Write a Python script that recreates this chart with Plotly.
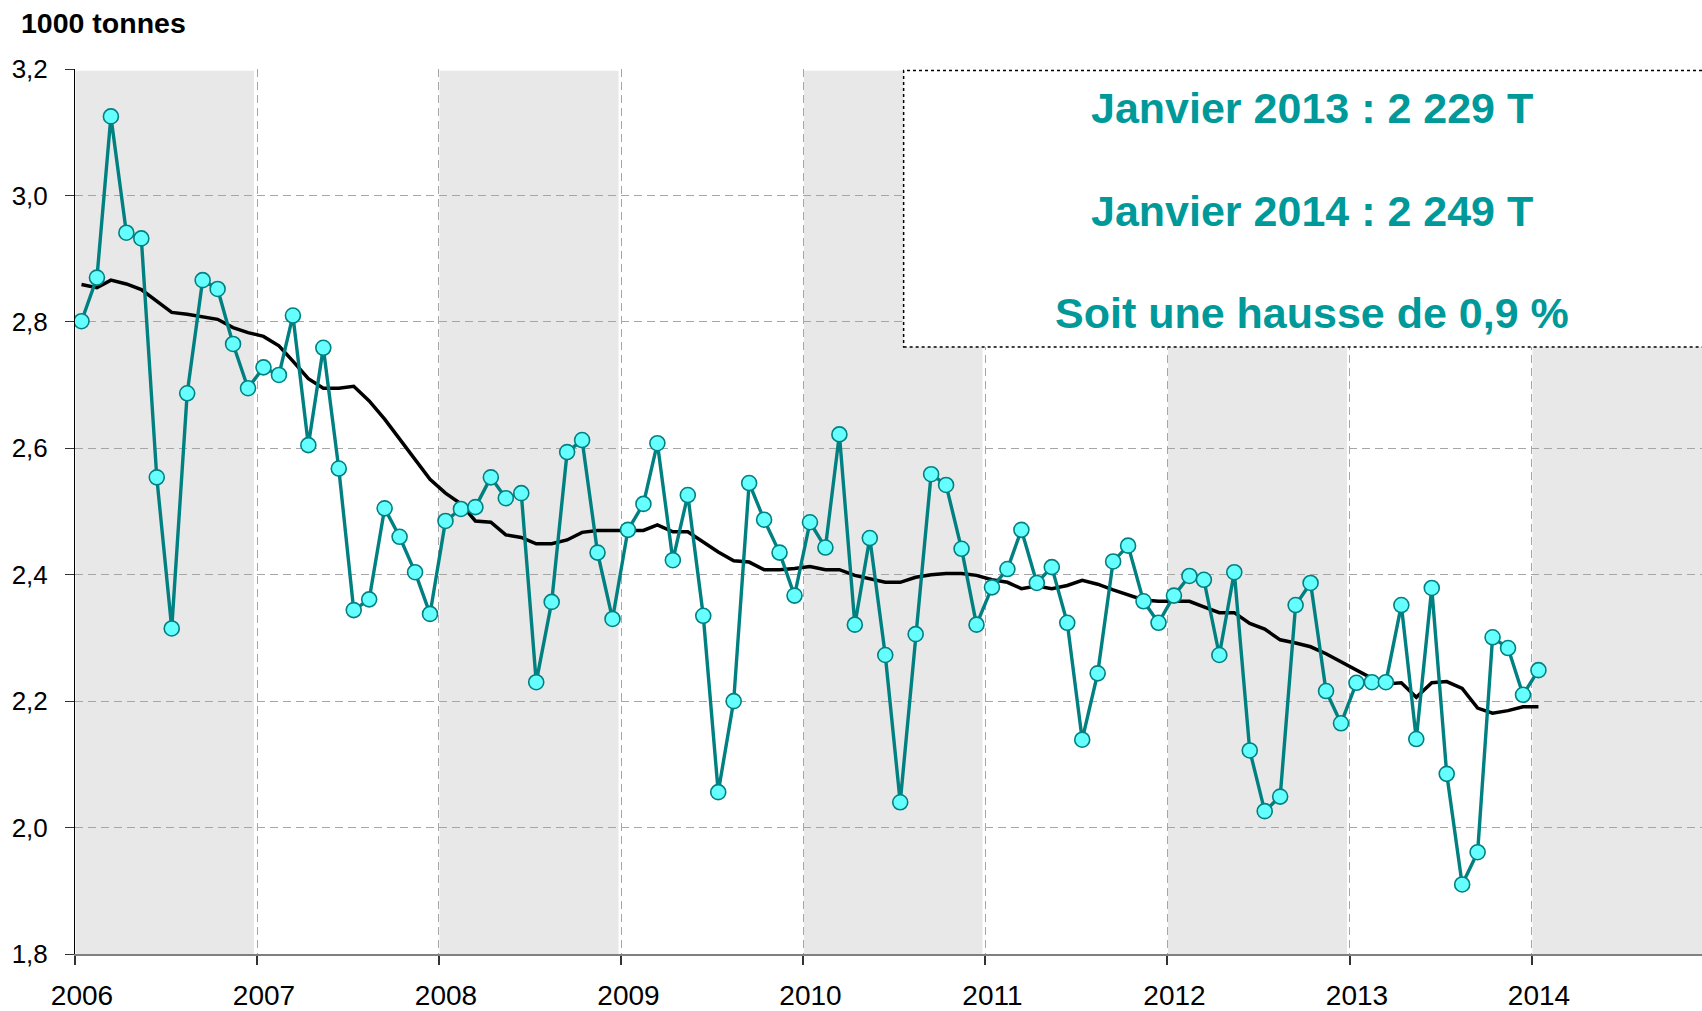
import pandas as pd
import plotly.graph_objects as go

# ---------------- data ----------------
START_MONTH = "2006-01-01"
N_MONTHS = 97  # Jan 2006 .. Jan 2014

monthly_tonnes = [
    2.801, 2.870, 3.125, 2.941, 2.932, 2.554, 2.315, 2.687, 2.866, 2.852, 2.765, 2.695,
    2.728, 2.716, 2.810, 2.605, 2.759, 2.568, 2.344, 2.361, 2.505, 2.460, 2.404, 2.338,
    2.485, 2.504, 2.507, 2.554, 2.521, 2.529, 2.230, 2.357, 2.594, 2.613, 2.435, 2.330,
    2.471, 2.512, 2.608, 2.423, 2.526, 2.335, 2.056, 2.200, 2.545, 2.487, 2.435, 2.367,
    2.483, 2.443, 2.622, 2.321, 2.458, 2.273, 2.040, 2.306, 2.559, 2.542, 2.441, 2.321,
    2.380, 2.409, 2.471, 2.387, 2.412, 2.324, 2.139, 2.244, 2.421, 2.446, 2.358, 2.324,
    2.367, 2.398, 2.392, 2.273, 2.404, 2.122, 2.026, 2.049, 2.352, 2.387, 2.216, 2.165,
    2.229, 2.230, 2.230, 2.352, 2.140, 2.379, 2.085, 1.910, 1.961, 2.301, 2.284, 2.210,
    2.249,
]

moving_average = [
    2.859, 2.854, 2.866, 2.860, 2.851, 2.833, 2.815, 2.812, 2.808, 2.804, 2.791, 2.783,
    2.777, 2.762, 2.738, 2.710, 2.695, 2.695, 2.698, 2.675, 2.646, 2.614, 2.583, 2.551,
    2.529, 2.512, 2.485, 2.483, 2.463, 2.459, 2.449, 2.449, 2.455, 2.467, 2.470, 2.470,
    2.470, 2.470, 2.479, 2.468, 2.468, 2.451, 2.436, 2.422, 2.420, 2.408, 2.408, 2.410,
    2.413, 2.408, 2.408, 2.399, 2.394, 2.388, 2.388, 2.396, 2.400, 2.402, 2.402, 2.399,
    2.392, 2.388, 2.378, 2.382, 2.378, 2.383, 2.391, 2.385, 2.376, 2.368, 2.360, 2.358,
    2.358, 2.358, 2.349, 2.340, 2.340, 2.323, 2.314, 2.297, 2.292, 2.286, 2.275, 2.262,
    2.250, 2.236, 2.227, 2.229, 2.206, 2.229, 2.231, 2.220, 2.189, 2.181, 2.185, 2.191,
    2.191,
]

y_tick_values = [1.8, 2.0, 2.2, 2.4, 2.6, 2.8, 3.0, 3.2]
shaded_years = [2006, 2008, 2010, 2012, 2014]

title_text = "1000 tonnes"
box_lines = [
    "Janvier 2013 : 2 229 T",
    "Janvier 2014 : 2 249 T",
    "Soit une hausse de 0,9 %",
]

# points sit in the middle of each month period (Excel date axis style)
months = pd.date_range(START_MONTH, periods=N_MONTHS, freq="MS") + pd.Timedelta(days=13)

FONT = "Liberation Sans, Arial, sans-serif"
TEAL = "#008080"
AQUA = "#66FFFF"
TEXT_TEAL = "#009999"
GRID = "#a6a6a6"

fig = go.Figure()

fig.add_trace(go.Scatter(
    x=months, y=moving_average, mode="lines",
    line=dict(color="black", width=3.5),
    hoverinfo="skip", showlegend=False,
))
fig.add_trace(go.Scatter(
    x=months, y=monthly_tonnes, mode="lines+markers",
    line=dict(color=TEAL, width=3.4),
    marker=dict(size=15, color=AQUA, line=dict(color=TEAL, width=1.6)),
    showlegend=False,
))

# alternating year bands
for yr in shaded_years:
    fig.add_shape(
        type="rect", xref="x", yref="paper",
        x0=f"{yr}-01-02", x1=f"{yr}-12-26", y0=0, y1=0.998,
        fillcolor="#e8e8e8", line=dict(width=0), layer="below",
    )

# info box
fig.add_shape(
    type="rect", xref="paper", yref="paper",
    x0=0.5093, x1=1.02, y0=0.6859, y1=0.9984,
    fillcolor="white", line=dict(color="black", width=1.5, dash="dot"),
    layer="above",
)
for txt, yp in zip(box_lines, [0.9556, 0.8398, 0.7239]):
    fig.add_annotation(
        text=f"<b>{txt}</b>", xref="paper", yref="paper",
        x=0.7603, y=yp, xanchor="center", yanchor="middle",
        showarrow=False, font=dict(family=FONT, size=43, color=TEXT_TEAL),
    )

fig.add_annotation(
    text=f"<b>{title_text}</b>", xref="paper", yref="paper",
    x=-0.0344, y=1.0515, xanchor="left", yanchor="middle",
    showarrow=False, font=dict(family=FONT, size=28.5, color="black"),
)

fig.update_layout(
    width=1702, height=1011,
    margin=dict(l=75, r=0, t=69, b=55, pad=0),
    plot_bgcolor="white", paper_bgcolor="white",
    separators=", ",
    font=dict(family=FONT, color="black"),
)

fig.update_xaxes(
    type="date",
    range=["2006-01-01", "2014-12-08"],
    tickmode="linear", tick0="2006-01-01", dtick="M12", tickformat="%Y",
    ticks="outside", ticklen=9, tickwidth=1.5, tickcolor="#333333",
    ticklabelshift=7, ticklabelstandoff=6,
    tickfont=dict(family=FONT, size=28, color="black"),
    showgrid=True, gridcolor=GRID, griddash="8px,5px", gridwidth=1,
    showline=True, linecolor="#808080", linewidth=2,
    zeroline=False,
)
fig.update_yaxes(
    range=[1.8, 3.2],
    tickmode="array", tickvals=y_tick_values, tickformat=".1f",
    ticks="outside", ticklen=9, tickwidth=1, tickcolor="#333333",
    ticklabelstandoff=12,
    tickfont=dict(family=FONT, size=26, color="black"),
    showgrid=True, gridcolor=GRID, griddash="8px,5px", gridwidth=1,
    showline=True, linecolor="black", linewidth=1,
    zeroline=False,
)

fig.write_html(
    "out.html",
    config={"displayModeBar": False},
    post_script="document.body.style.margin='0';document.body.style.overflow='hidden';",
)
